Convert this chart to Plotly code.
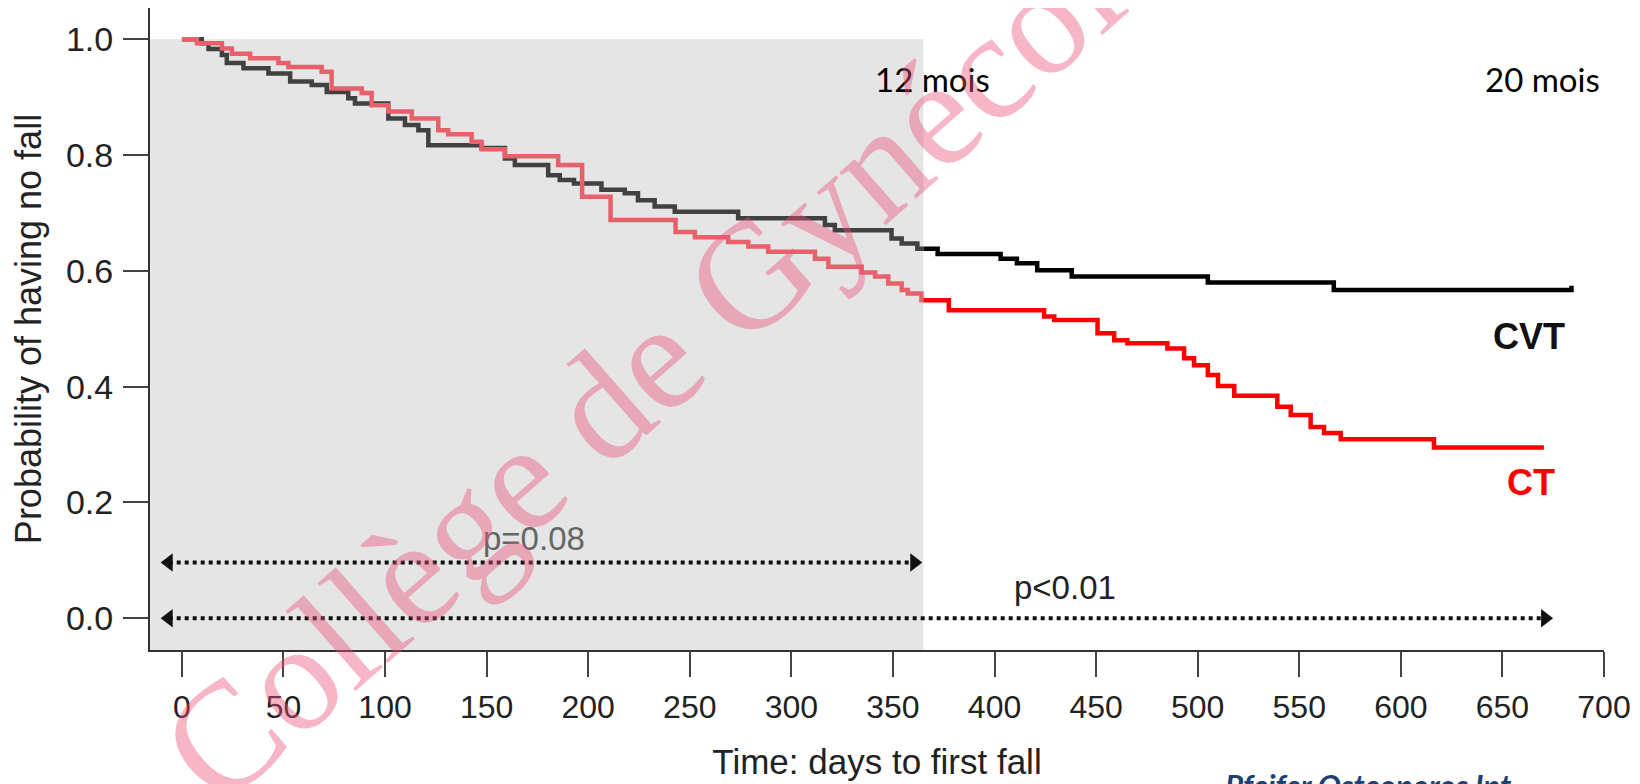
import numpy as np
import plotly.graph_objects as go

# ---------------- data ----------------
cvt_days = [0, 9.8, 13.1, 19.7, 22.1, 30.3, 42.6, 53.3, 63.9, 71.3, 81.9, 85.2, 101.6, 109.8,
            116.4, 121.3, 147.5, 159, 163.9, 180.3, 186, 193, 206.5, 218, 224.5, 232.7, 242.6,
            273.8, 316.5, 321.4, 349.3, 354.3, 362, 372, 403, 411, 421, 438, 505, 567, 671, 684]
cvt_surv = [1.0, 0.993, 0.983, 0.973, 0.959, 0.950, 0.941, 0.927, 0.921, 0.909, 0.898, 0.889, 0.863, 0.852,
            0.843, 0.817, 0.812, 0.794, 0.783, 0.765, 0.757, 0.751, 0.740, 0.734, 0.722, 0.711, 0.702,
            0.691, 0.679, 0.670, 0.656, 0.647, 0.638, 0.629, 0.621, 0.613, 0.601, 0.590, 0.580, 0.567, 0.567, 0.574]

ct_days = [0, 7.4, 19.7, 24.6, 33.6, 47.5, 52.4, 68.8, 73.7, 88.5, 93.4, 101.6, 113.1, 126.2, 131.1,
           142.6, 147.5, 159, 185.2, 197, 211, 243, 252.5, 268.9, 278.8, 288.6, 311.6, 318.2, 334.6,
           341.2, 347.7, 354.3, 357.3, 364, 377.5, 424.4, 429.4, 450.7, 458.9, 465.4, 485.1, 493.3,
           498.2, 505, 510, 518, 539.2, 545.8, 555.6, 562.2, 570.4, 616.3, 670.4]
ct_surv = [1.0, 0.993, 0.984, 0.975, 0.967, 0.959, 0.952, 0.944, 0.915, 0.907, 0.886, 0.875, 0.863, 0.843, 0.836,
           0.823, 0.810, 0.798, 0.783, 0.728, 0.688, 0.667, 0.658, 0.650, 0.642, 0.633, 0.621, 0.607, 0.597,
           0.590, 0.578, 0.567, 0.561, 0.549, 0.532, 0.521, 0.515, 0.492, 0.480, 0.475, 0.466, 0.449,
           0.437, 0.420, 0.401, 0.384, 0.365, 0.351, 0.330, 0.320, 0.309, 0.295, 0.295]

shade_end = 365                      # 12 months
arrow_y = [0.096, 0.0]
arrow_start = [-6.5, -6.5]
arrow_end = [360.5, 671]
p_labels = ["p=0.08", "p<0.01"]
p_x = [173.5, 434.8]
p_y = [0.138, 0.053]

month_labels = ["12 mois", "20 mois"]
month_x = [369.5, 669.5]
month_y = [0.931, 0.931]

group_labels = ["CVT", "CT"]
group_x = [663, 664]
group_y = [0.487, 0.235]

x_ticks = list(range(0, 701, 50))
y_ticks = [0.0, 0.2, 0.4, 0.6, 0.8, 1.0]
x_range = [-15.7, 700]
y_range = [-0.055, 1.054]

FONT = "Liberation Sans, Arial, sans-serif"


def split_at(days, surv, cut):
    d = np.asarray(days, dtype=float)
    s = np.asarray(surv, dtype=float)
    idx = np.searchsorted(d, cut, side="right") - 1
    v = s[idx]
    ax = list(d[d < cut]) + [cut]
    ay = list(s[d < cut]) + [v]
    bx = [cut] + list(d[d > cut])
    by = [v] + list(s[d > cut])
    return (ax, ay), (bx, by)


fig = go.Figure()

# shaded first-year area
fig.add_shape(type="rect", xref="x", yref="y", x0=x_range[0], x1=shade_end,
              y0=y_range[0], y1=1.0, fillcolor="#e5e5e5", line_width=0, layer="below")

curves = [
    (cvt_days, cvt_surv, "#414141", "#000000", "CVT"),
    (ct_days, ct_surv, "#e8606a", "#ff0000", "CT"),
]
for days, surv, c_in, c_out, name in curves:
    (ax, ay), (bx, by) = split_at(days, surv, shade_end)
    fig.add_trace(go.Scatter(x=ax, y=ay, mode="lines", line=dict(color=c_in, width=4.5, shape="hv"),
                             name=name, showlegend=False, hoverinfo="skip"))
    fig.add_trace(go.Scatter(x=bx, y=by, mode="lines", line=dict(color=c_out, width=4.5, shape="hv"),
                             name=name, showlegend=False, hoverinfo="skip"))

# dotted double arrows
for y, x0, x1 in zip(arrow_y, arrow_start, arrow_end):
    fig.add_trace(go.Scatter(x=[x0, x1], y=[y, y], mode="lines+markers",
                             line=dict(color="#111111", width=4, dash="dot"),
                             marker=dict(symbol=["triangle-left", "triangle-right"], size=16,
                                         color="#111111", line_width=0),
                             showlegend=False, hoverinfo="skip"))

annotations = []
for t, x, y, col in zip(p_labels, p_x, p_y, ["#666666", "#222222"]):
    annotations.append(dict(x=x, y=y, xref="x", yref="y", text=t, showarrow=False,
                            font=dict(family=FONT, size=33, color=col)))
for t, x, y in zip(month_labels, month_x, month_y):
    annotations.append(dict(x=x, y=y, xref="x", yref="y", text=t, showarrow=False,
                            font=dict(family="Lato, Carlito, sans-serif", size=33, color="#000000")))
for t, x, y, col in zip(group_labels, group_x, group_y, ["#111111", "#ff0000"]):
    annotations.append(dict(x=x, y=y, xref="x", yref="y", text="<b>" + t + "</b>", showarrow=False,
                            font=dict(family=FONT, size=36, color=col)))

# citation (cut by the bottom edge)
annotations.append(dict(x=0.738, y=-0.1776, xref="paper", yref="paper", xanchor="left", yanchor="top",
                        text="<b><i>Pfeifer Osteoporos Int</i></b>", showarrow=False,
                        font=dict(family="Lato, sans-serif", size=31, color="#1f3f73")))
# watermark
annotations.append(dict(x=0.4058, y=0.570, xref="paper", yref="paper", xanchor="center", yanchor="middle",
                        text="Collège de Gynécologie", showarrow=False, textangle=-41.3,
                        font=dict(family="Liberation Serif, Times New Roman, serif", size=153,
                                  color="rgba(236,80,120,0.42)")))

fig.update_layout(
    width=1640, height=784,
    margin=dict(l=142, r=44, t=0, b=142),
    paper_bgcolor="white", plot_bgcolor="white",
    showlegend=False,
    annotations=annotations,
    font=dict(family=FONT, color="#222222"),
)
fig.update_xaxes(range=x_range, tickvals=x_ticks, ticks="outside", ticklen=25, tickwidth=2,
                 tickcolor="#444444", showline=True, linecolor="#333333", linewidth=2,
                 showgrid=False, zeroline=False, tickfont=dict(size=32, color="#222222"),
                 ticklabelstandoff=3, automargin=False,
                 title=dict(text="Time: days to first fall", font=dict(size=35, color="#222222"), standoff=25))
fig.update_yaxes(range=y_range, tickvals=y_ticks, tickformat=".1f", ticks="outside", ticklen=25,
                 tickwidth=2, tickcolor="#444444", showline=True, linecolor="#333333", linewidth=2,
                 showgrid=False, zeroline=False, tickfont=dict(size=34, color="#222222"),
                 ticklabelstandoff=3, automargin=False,
                 title=dict(text="Probability of having no fall", font=dict(size=36, color="#222222"),
                            standoff=15))

fig.write_html("out.html")
